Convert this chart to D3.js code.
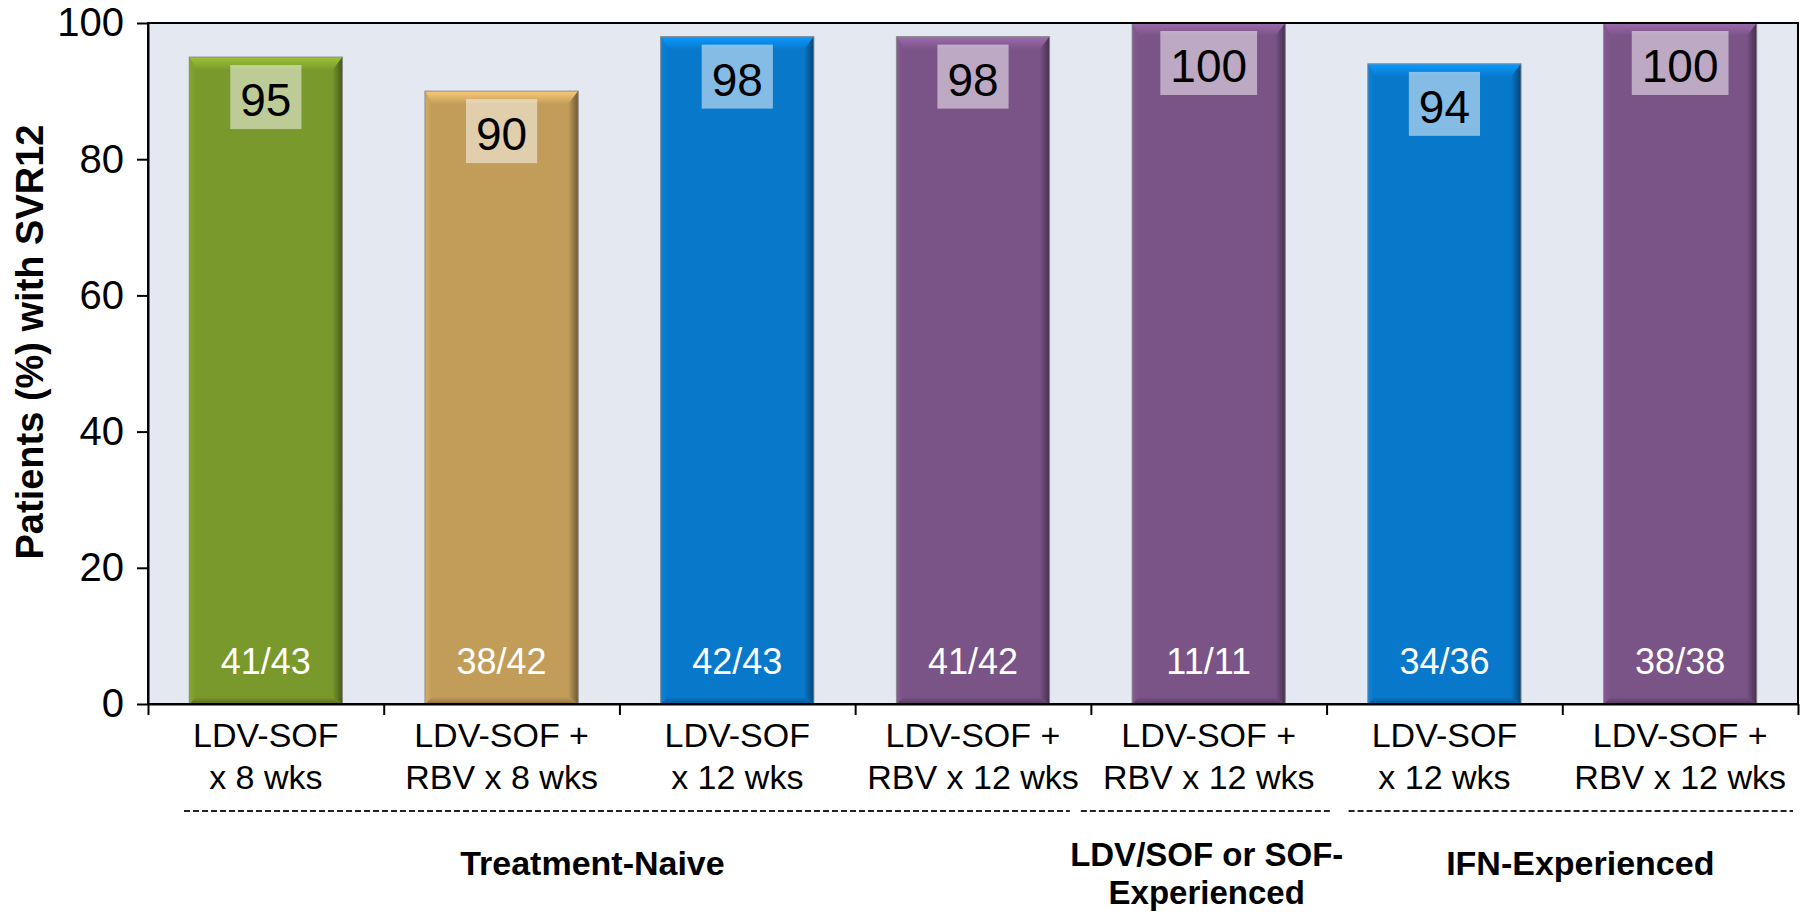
<!DOCTYPE html>
<html lang="en">
<head>
<meta charset="UTF-8">
<title>SVR12 by regimen</title>
<script src="https://d3js.org/d3.v7.min.js"></script>
<style>
  body { margin: 0; background: #fff; }
  svg { display: block; font-family: "Liberation Sans", Arial, sans-serif; }
</style>
</head>
<body>
<div id="chart"></div>
<script>
// chart data
var labelTop = ["LDV-SOF", "LDV-SOF +", "LDV-SOF", "LDV-SOF +", "LDV-SOF +", "LDV-SOF", "LDV-SOF +"];
var labelBottom = ["x 8 wks", "RBV x 8 wks", "x 12 wks", "RBV x 12 wks", "RBV x 12 wks", "x 12 wks", "RBV x 12 wks"];
var svr = [95, 90, 98, 98, 100, 94, 100];
var counts = ["41/43", "38/42", "42/43", "41/42", "11/11", "34/36", "38/38"];
var regimen = ["sof8", "rbv8", "sof12", "rbv12", "rbv12", "sof12", "rbv12"];
var yTicks = [0, 20, 40, 60, 80, 100];
var groupNames = [["Treatment-Naive"], ["LDV/SOF or SOF-", "Experienced"], ["IFN-Experienced"]];
var groupFirst = [0, 4, 5];
var groupLast = [3, 4, 6];

// layout
var margin = {top: 23, right: 6, bottom: 210, left: 148},
    width = 1804 - margin.left - margin.right,
    height = 914 - margin.top - margin.bottom;

var dashInsetL = [36, -10, 22], dashInsetR = [21, -5, 5];
var groupShift = [-27, -2, 18];

var color = d3.scaleOrdinal()
    .domain(["sof8", "rbv8", "sof12", "rbv12"])
    .range(["#7a992c", "#c29d5a", "#0878cb", "#7a5387"]);

var svg = d3.select("#chart").append("svg")
    .attr("width", 1804)
    .attr("height", 914);

var defs = svg.append("defs");
color.domain().forEach(function(k) {
  var c = d3.color(color(k));
  function grad(id, x2, y2, a, b) {
    var g = defs.append("linearGradient").attr("id", id + "-" + k)
        .attr("x1", 0).attr("y1", 0).attr("x2", x2).attr("y2", y2);
    g.append("stop").attr("offset", "0%").attr("stop-color", a);
    g.append("stop").attr("offset", "100%").attr("stop-color", b);
  }
  grad("top", 0, 1, c.brighter(0.7), c);
  grad("right", 1, 0, c, c.darker(1.6));
  grad("bot", 0, 1, c, c.darker(0.9));
  grad("left", 1, 0, c.brighter(0.25), c);
});

var g = svg.append("g")
    .attr("transform", "translate(" + margin.left + "," + margin.top + ")");

var x = d3.scaleBand()
    .domain(d3.range(svr.length))
    .range([0, width])
    .paddingInner(0.35)
    .paddingOuter(0.175);
var xEdge = d3.scaleLinear().domain([0, svr.length]).range([0, width]);
var y = d3.scaleLinear().domain([0, 100]).range([height, 0]);

// plot background
g.append("rect")
    .attr("width", width)
    .attr("height", height)
    .style("fill", "#e4e9f1");

// bars with a bevel
var bar = g.selectAll(".bar")
    .data(svr)
  .enter().append("g")
    .attr("class", "bar");

bar.each(function(v, i) {
  var el = d3.select(this), k = regimen[i];
  var bx = x(i), bw = x.bandwidth(), by = y(v), bh = height - y(v);
  var t = 13, r = 10, b = 7, l = 7;
  function poly(pts) { return "M" + pts.map(function(p) { return p.join(","); }).join("L") + "Z"; }

  el.append("rect")
      .attr("x", bx).attr("y", by)
      .attr("width", bw).attr("height", bh)
      .style("fill", color(k));
  el.append("path")
      .attr("d", poly([[bx, by], [bx + bw, by], [bx + bw - r, by + t], [bx + l, by + t]]))
      .style("fill", "url(#top-" + k + ")");
  el.append("path")
      .attr("d", poly([[bx + bw, by], [bx + bw, by + bh], [bx + bw - r, by + bh - b], [bx + bw - r, by + t]]))
      .style("fill", "url(#right-" + k + ")");
  el.append("path")
      .attr("d", poly([[bx, by + bh], [bx + bw, by + bh], [bx + bw - r, by + bh - b], [bx + l, by + bh - b]]))
      .style("fill", "url(#bot-" + k + ")");
  el.append("path")
      .attr("d", poly([[bx, by], [bx + l, by + t], [bx + l, by + bh - b], [bx, by + bh]]))
      .style("fill", "url(#left-" + k + ")");
  el.append("rect")
      .attr("x", bx).attr("y", by)
      .attr("width", bw).attr("height", bh)
      .style("fill", "none")
      .style("stroke", "#8d8d8d")
      .style("stroke-width", 1);

  // value box
  var box = el.append("rect")
      .attr("y", by + 8)
      .attr("height", 64)
      .style("fill", "#fff")
      .style("fill-opacity", 0.5);
  var txt = el.append("text")
      .attr("x", bx + bw / 2)
      .attr("y", by + 59)
      .style("text-anchor", "middle")
      .style("font-size", "46px")
      .style("fill", "#000")
      .text(v);
  var tw = txt.node().getComputedTextLength() + 20;
  box.attr("x", bx + bw / 2 - tw / 2).attr("width", tw);

  // n/N inside the bar
  el.append("text")
      .attr("x", bx + bw / 2)
      .attr("y", height - 30)
      .style("text-anchor", "middle")
      .style("font-size", "36px")
      .style("fill", "#fff")
      .text(counts[i]);
});

// frame
g.append("rect")
    .attr("width", width)
    .attr("height", height)
    .style("fill", "none")
    .style("stroke", "#000")
    .style("stroke-width", 2);

// y axis
var yAxis = g.append("g")
    .call(d3.axisLeft(y).tickValues(yTicks).tickSize(11).tickSizeOuter(0).tickPadding(13));
yAxis.selectAll("text").style("font-size", "40px").style("fill", "#000").attr("font-family", null);
yAxis.selectAll("line, path").style("stroke", "#000").style("stroke-width", 2);

// x axis ticks at category boundaries
var xAxis = g.append("g")
    .attr("transform", "translate(0," + height + ")")
    .call(d3.axisBottom(xEdge).tickValues(d3.range(svr.length + 1)).tickSize(11).tickSizeOuter(0).tickFormat(""));
xAxis.selectAll("line, path").style("stroke", "#000").style("stroke-width", 2);

// category labels
var cat = g.selectAll(".cat")
    .data(labelTop)
  .enter().append("text")
    .attr("class", "cat")
    .style("text-anchor", "middle")
    .style("font-size", "34px")
    .style("fill", "#000");
cat.append("tspan")
    .attr("x", function(d, i) { return x(i) + x.bandwidth() / 2; })
    .attr("y", 724)
    .text(function(d) { return d; });
cat.append("tspan")
    .attr("x", function(d, i) { return x(i) + x.bandwidth() / 2; })
    .attr("y", 766)
    .text(function(d, i) { return labelBottom[i]; });

// group brackets and labels
groupNames.forEach(function(lines, gi) {
  var x0 = xEdge(groupFirst[gi]), x1 = xEdge(groupLast[gi] + 1);
  g.append("line")
      .attr("x1", x0 + dashInsetL[gi]).attr("x2", x1 - dashInsetR[gi])
      .attr("y1", 788).attr("y2", 788)
      .style("stroke", "#222")
      .style("stroke-width", 1.8)
      .style("stroke-dasharray", "6,3");
  lines.forEach(function(s, li) {
    g.append("text")
        .attr("x", (x0 + x1) / 2 + groupShift[gi])
        .attr("y", lines.length === 1 ? 852 : 843 + li * 38)
        .style("text-anchor", "middle")
        .style("font-size", lines.length === 1 ? "34px" : "33px")
        .style("font-weight", "bold")
        .style("fill", "#000")
        .text(s);
  });
});

// y-axis title
svg.append("text")
    .attr("transform", "translate(43,342) rotate(-90)")
    .style("text-anchor", "middle")
    .style("font-size", "38px")
    .style("font-weight", "bold")
    .style("fill", "#000")
    .text("Patients (%) with SVR12");
</script>
</body>
</html>
